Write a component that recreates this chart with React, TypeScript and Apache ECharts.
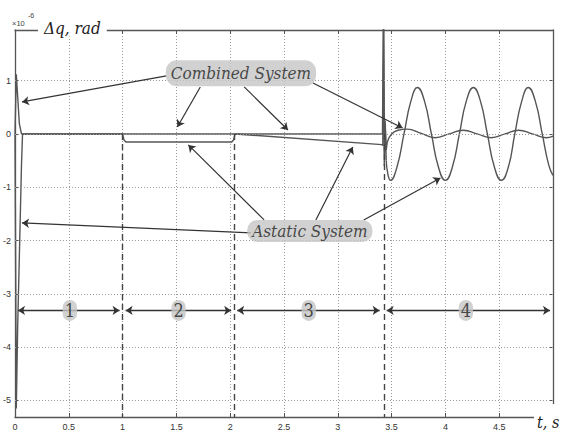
import React, { useEffect, useRef } from "react";
import * as echarts from "echarts";

// ---- axes ----
const X_MIN = 0;
const X_MAX = 5;
const X_STEP = 0.5;
const Y_MIN = -5.31;
const Y_MAX = 1.95;
const yTicks = [-5, -4, -3, -2, -1, 0, 1];
const yTickLabels = ["-5", "-4", "-3", "-2", "-1", "0", "1"];
const hiddenXLabels = [5];

// ---- curves (units of 1e-6 rad) ----
const combinedSpikes = [
  [0, 0], [0.012, 1.12], [0.025, 0.7], [0.04, 0.2], [0.06, 0],
  [3.415, 0], [3.424, 2.3], [3.432, -0.6], [3.44, 0.25], [3.45, -0.3], [3.46, -0.15],
];
const combinedWave = [
  [3.46, -0.15], [3.5, 0.0], [3.56, 0.07], [3.645, 0.09], [3.775, 0.01], [3.905, -0.07],
  [4.035, 0], [4.165, 0.07], [4.295, 0], [4.425, -0.07], [4.555, 0], [4.68, 0.07],
  [4.81, 0], [4.935, -0.07], [5.0, -0.04],
];
const astaticSpikes = [
  [0, 0], [0.006, -2.5], [0.012, -5.15], [0.025, -3.6], [0.045, -1.9], [0.06, -0.6], [0.07, 0],
  [1.0, 0], [1.012, -0.11], [1.03, -0.15], [2.015, -0.15], [2.032, -0.11], [2.045, 0],
  [3.41, -0.2], [3.418, -0.22], [3.426, 2.3], [3.434, -0.35], [3.442, 0.05], [3.45, -0.5],
];
const astaticWave = [
  [3.45, -0.5], [3.465, -0.75], [3.49, -0.87], [3.55, -0.62], [3.615, 0], [3.68, 0.62],
  [3.74, 0.87], [3.805, 0.62], [3.87, 0], [3.935, -0.62], [4.0, -0.87], [4.065, -0.62],
  [4.13, 0], [4.195, 0.62], [4.26, 0.87], [4.325, 0.62], [4.39, 0], [4.455, -0.62],
  [4.52, -0.87], [4.585, -0.62], [4.645, 0], [4.71, 0.62], [4.77, 0.87], [4.835, 0.62],
  [4.9, 0], [4.96, -0.58], [5.0, -0.78],
];

// ---- phases ----
const phaseBounds = [1.0, 2.04, 3.43];
const phaseLabels = ["1", "2", "3", "4"];
const phaseLabelT = [0.51, 1.52, 2.73, 4.19];
const phaseLevel = -3.31;
const phaseArrows = [
  [0.028, 0.972],
  [1.028, 2.009],
  [2.065, 3.389],
  [3.454, 4.972],
];

// ---- callouts ----
const combinedCallout = [2.1, 1.14];
const astaticCallout = [2.74, -1.82];
const combinedArrows = [
  [[1.407, 1.088], [0.065, 0.6]],
  [[1.722, 0.882], [1.509, 0.131]],
  [[2.13, 0.882], [2.537, 0.075]],
  [[2.769, 0.957], [3.602, 0.113]],
];
const astaticArrows = [
  [[2.194, -1.857], [0.065, -1.67]],
  [[2.315, -1.613], [1.611, -0.206]],
  [[2.796, -1.613], [3.139, -0.244]],
  [[3.241, -1.613], [3.954, -0.826]],
];

const SERIF_COND = "DejaVu Serif Condensed";
const SANS = "Liberation Sans";
const CURVE = "#555";
const INK = "#333";
const BOX = "#c6c6c6";

function buildOption(): any {
  const axisLine = { show: true, onZero: false, lineStyle: { color: "#555", width: 1.3 } };
  const tick = { show: true, inside: true, length: 4, lineStyle: { color: "#555", width: 1 } };
  const curve = (data: number[][], smooth: boolean) => ({
    type: "line",
    data,
    smooth,
    symbol: "none",
    showSymbol: false,
    z: 4,
    silent: true,
    lineStyle: { color: CURVE, width: 1.4 },
  });
  const markerHolder = (z: number, markLine: any) => ({
    type: "line",
    data: [[X_MIN, 0]],
    symbol: "none",
    showSymbol: false,
    silent: true,
    z,
    lineStyle: { width: 0 },
    markLine: { silent: true, animation: false, label: { show: false }, ...markLine },
  });
  const calloutLabel = (padding: number[], radius: number) => ({
    show: true,
    position: "inside",
    formatter: (p: any) => p.name,
    fontFamily: SERIF_COND,
    fontStyle: "italic",
    fontSize: 17,
    color: "#222",
    backgroundColor: BOX,
    borderRadius: radius,
    padding,
  });

  return {
    animation: false,
    backgroundColor: "#fff",
    grid: { left: 13, right: 8, top: 30, bottom: 14, containLabel: false },
    xAxis: [
      {
        type: "value",
        min: X_MIN,
        max: X_MAX,
        interval: X_STEP,
        position: "bottom",
        axisLine,
        axisTick: tick,
        axisLabel: {
          fontSize: 9,
          fontFamily: SANS,
          color: INK,
          margin: 5,
          formatter: (v: number) => (hiddenXLabels.includes(v) ? "" : String(v)),
        },
        splitLine: { show: true, lineStyle: { color: "#9a9a9a", width: 1, type: [1, 2] } },
      },
      {
        type: "value",
        min: X_MIN,
        max: X_MAX,
        interval: X_STEP,
        position: "top",
        axisLine,
        axisTick: tick,
        axisLabel: { show: false },
        splitLine: { show: false },
      },
    ],
    yAxis: [
      {
        type: "value",
        min: Y_MIN,
        max: Y_MAX,
        position: "left",
        axisLine,
        axisTick: { ...tick, customValues: yTicks },
        axisLabel: {
          customValues: yTicks,
          fontSize: 9,
          fontFamily: SANS,
          color: INK,
          margin: 4,
          formatter: (v: number) => {
            const i = yTicks.indexOf(Math.round(v));
            return i >= 0 ? yTickLabels[i] : "";
          },
        },
        splitLine: { show: false },
      },
      {
        type: "value",
        min: Y_MIN,
        max: Y_MAX,
        position: "right",
        axisLine,
        axisTick: { ...tick, customValues: yTicks },
        axisLabel: { show: false },
        splitLine: { show: false },
      },
    ],
    series: [
      markerHolder(1, {
        symbol: ["none", "none"],
        lineStyle: { color: "#9a9a9a", width: 1, type: [1, 2] },
        data: yTicks.map((v) => ({ yAxis: v })),
      }),
      markerHolder(2, {
        symbol: ["none", "none"],
        lineStyle: { color: "#444", width: 1.4, type: [6, 4] },
        data: phaseBounds.map((t) => [{ coord: [t, 0] }, { coord: [t, Y_MIN] }]),
      }),
      markerHolder(3, {
        symbol: ["arrow", "arrow"],
        symbolSize: 7,
        lineStyle: { color: INK, width: 1.3, type: "solid" },
        data: phaseArrows.map(([a, b]) => [{ coord: [a, phaseLevel] }, { coord: [b, phaseLevel] }]),
      }),
      markerHolder(5, {
        symbol: ["none", "arrow"],
        symbolSize: 7,
        lineStyle: { color: INK, width: 1.2, type: "solid" },
        data: [...combinedArrows, ...astaticArrows].map(([a, b]) => [{ coord: a }, { coord: b }]),
      }),
      curve(combinedSpikes, false),
      curve(combinedWave, true),
      curve(astaticSpikes, false),
      curve(astaticWave, true),
      {
        type: "scatter",
        z: 6,
        silent: true,
        symbolSize: 1,
        itemStyle: { color: "transparent" },
        data: phaseLabelT.map((t, i) => ({ value: [t, phaseLevel], name: phaseLabels[i] })),
        label: {
          show: true,
          position: "inside",
          formatter: (p: any) => p.name,
          fontFamily: SERIF_COND,
          fontSize: 18,
          color: "#222",
          backgroundColor: BOX,
          borderRadius: 7,
          padding: [2, 2, 1, 2],
        },
      },
      {
        type: "scatter",
        z: 6,
        silent: true,
        symbolSize: 1,
        itemStyle: { color: "transparent" },
        data: [{ value: combinedCallout, name: "Combined System" }],
        label: calloutLabel([5, 5, 4, 5], 11),
      },
      {
        type: "scatter",
        z: 6,
        silent: true,
        symbolSize: 1,
        itemStyle: { color: "transparent" },
        data: [{ value: astaticCallout, name: "Astatic System" }],
        label: calloutLabel([3, 5, 2, 5], 10),
      },
    ],
    graphic: [
      {
        type: "text",
        z: 100,
        x: 38,
        y: 28,
        style: {
          text: "Δq, rad",
          fontFamily: SERIF_COND,
          fontStyle: "italic",
          fontSize: 17,
          fill: "#222",
          verticalAlign: "middle",
          backgroundColor: "#fff",
          padding: [0, 6, 0, 6],
        },
      },
      {
        type: "text",
        z: 100,
        x: 12,
        y: 23,
        style: { text: "×10", fontFamily: SANS, fontSize: 7.5, fill: "#444", verticalAlign: "middle" },
      },
      {
        type: "text",
        z: 100,
        x: 28,
        y: 15,
        style: { text: "-6", fontFamily: SANS, fontSize: 7, fill: "#444", verticalAlign: "middle" },
      },
      {
        type: "rect",
        z: 100,
        shape: { x: 534, y: 404, width: 27, height: 27 },
        style: { fill: "#fff" },
      },
      {
        type: "text",
        z: 101,
        x: 537,
        y: 422,
        style: {
          text: "t, s",
          fontFamily: SERIF_COND,
          fontStyle: "italic",
          fontSize: 16,
          fill: "#222",
          verticalAlign: "middle",
        },
      },
    ],
  };
}

export default function App() {
  const ref = useRef<HTMLDivElement>(null);
  useEffect(() => {
    if (!ref.current) return;
    const chart = echarts.init(ref.current, null, { renderer: "svg" });
    chart.setOption(buildOption());
    return () => chart.dispose();
  }, []);
  return (
    <div
      ref={ref}
      style={{ position: "fixed", left: 0, top: 0, width: 561, height: 431, background: "#fff" }}
    />
  );
}
